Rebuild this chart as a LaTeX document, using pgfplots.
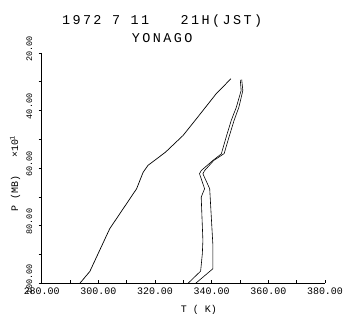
\documentclass[border=0pt]{standalone}
\usepackage{fontspec}
\setmainfont{Liberation Mono}
\usepackage{pgfplots}
\pgfplotsset{compat=1.18}
\begin{document}
\begin{tikzpicture}
\path[use as bounding box] (0,0) rectangle (349bp,314bp);
\begin{axis}[
  at={(41.7bp,30.8bp)}, anchor=south west,
  scale only axis, width=283.3bp, height=230.4bp,
  xmin=280, xmax=380, ymin=20, ymax=100, y dir=reverse,
  axis x line*=bottom, axis y line*=left,
  axis line style={-, line width=0.7bp},
  xtick={280,290,...,380},
  xticklabels={280.00,,300.00,,320.00,,340.00,,360.00,,380.00},
  ytick={20,30,...,100},
  yticklabels={20.00,,40.00,,60.00,,80.00,,100.00},
  xtick align=inside, ytick align=outside,
  major tick length=3bp,
  tick style={line width=0.6bp, black},
  xticklabel style={font=\fontsize{10}{11}\selectfont, yshift=-1bp},
  yticklabel style={font=\fontsize{8.5}{9}\selectfont, rotate=90, anchor=south, xshift=4bp, yshift=3bp},
  /pgf/number format/assume math mode=true,
  clip=false,
]
\addplot[black, line width=0.7bp] coordinates {
(293.5,100) (297.0,95.9) (304.0,81.1) (313.5,67.2) (315.8,61.5) (317.5,59.1)
(323.7,54.5) (329.9,48.7) (335.5,41.8) (341.6,34.2) (346.8,29.0)};
\addplot[black, line width=0.6bp] coordinates {
(331.7,100) (336.1,95.8) (336.7,89.8) (336.9,85.2) (336.3,70.1) (337.5,67.2)
(335.7,62.0) (336.3,60.9) (340.4,57.4) (343.4,55.1) (345.1,49.3) (346.9,43.5)
(348.7,38.9) (350.4,33.1) (350.1,29.4)};
\addplot[black, line width=0.6bp] coordinates {
(334.4,100) (340.4,95.0) (340.4,86.3) (339.3,67.2) (336.9,62.0) (337.5,60.9)
(340.7,57.4) (344.4,55.0) (346.1,49.3) (347.9,43.5) (349.6,38.9) (351.0,33.1)
(350.6,29.3)};
\node[font=\fontsize{13.5}{14}\selectfont\addfontfeature{LetterSpace=18}] at (rel axis cs:0.425,1.140) {1972 7 11\ \ \ 21H(JST)};
\node[font=\fontsize{13.5}{14}\selectfont\addfontfeature{LetterSpace=18}] at (rel axis cs:0.425,1.062) {YONAGO};
\node[rotate=90, font=\fontsize{10}{11}\selectfont] at (rel axis cs:-0.094,0.476) {P (MB)\ \ \ ×10\textsuperscript{1}};
\node[font=\fontsize{10}{11}\selectfont] at (rel axis cs:0.555,-0.114) {T ( K)};
\end{axis}
\end{tikzpicture}
\end{document}
